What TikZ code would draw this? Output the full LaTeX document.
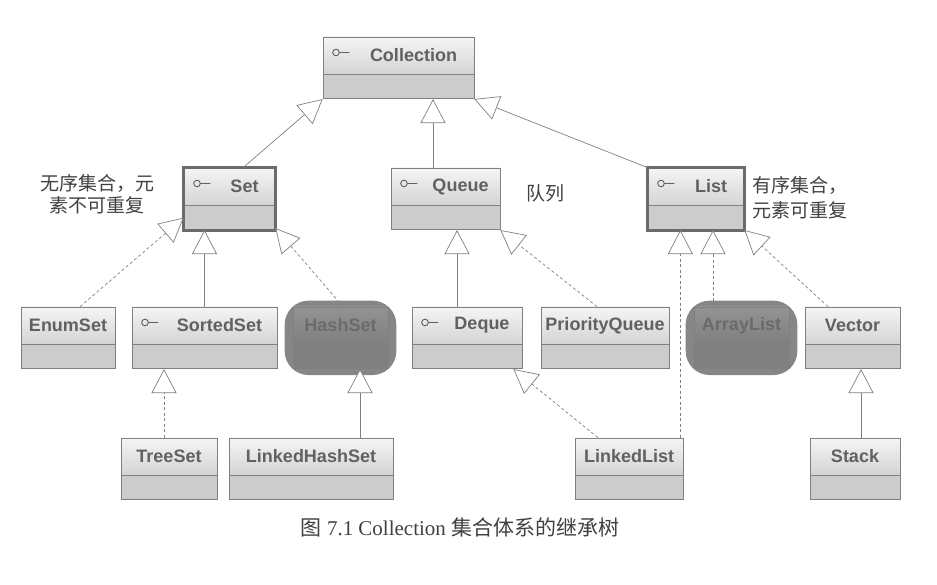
\documentclass[tikz,border=0pt]{standalone}
\usepackage{fontspec}
\setmainfont{Liberation Serif}
\newfontfamily\boxfont{Liberation Sans}
\newfontfamily\cjk{Noto Sans CJK SC}
\usetikzlibrary{arrows.meta,positioning,backgrounds}

\newlength{\du}
\setlength{\du}{1pt}

\definecolor{dialinecolor}{rgb}{0.50,0.50,0.50}
\definecolor{diatextcolor}{rgb}{0.38,0.38,0.38}
\definecolor{diaheadtop}{rgb}{0.96,0.96,0.96}
\definecolor{diaheadbot}{rgb}{0.83,0.83,0.83}
\definecolor{diacompcolor}{rgb}{0.80,0.80,0.80}
\definecolor{diadarkcolor}{rgb}{0.50,0.50,0.50}
\definecolor{diadarktext}{rgb}{0.42,0.42,0.42}
\definecolor{diaframecolor}{rgb}{0.42,0.42,0.42}
\definecolor{dianotecolor}{rgb}{0.25,0.25,0.25}

\tikzset{
  hdr/.style={draw=dialinecolor, line width=0.7\du, top color=diaheadtop, bottom color=diaheadbot,
    minimum height=37\du, inner sep=0pt, text=diatextcolor,
    font=\boxfont\bfseries\fontsize{18}{20}\selectfont},
  cmp/.style={draw=dialinecolor, line width=0.7\du, fill=diacompcolor, minimum height=24\du,
    inner sep=0pt, below=0pt of #1},
  iface/.style={execute at begin node={\hspace*{30\du}},
    path picture={\draw[diatextcolor, line width=0.9\du]
      ([xshift=13\du,yshift=3\du]path picture bounding box.west) circle[radius=3.3\du]
      ++(3.3\du,0) -- ++(10\du,0);}},
  darkhdr/.style={top color=diadarkcolor!85, bottom color=diadarkcolor, text=diadarktext},
  darkcmp/.style={fill=diadarkcolor},
  blob/.style={fill=diadarkcolor!95, rounded corners=24\du},
  frame/.style={draw=diaframecolor, line width=3\du},
  ext/.style={draw=dialinecolor, line width=0.7pt,
    -{Triangle[length=24pt, width=25pt, fill=white, line width=0.7pt]}},
  impl/.style={ext, dash pattern=on 3pt off 2.5pt},
  note/.style={text=dianotecolor, font=\cjk\fontsize{19}{22}\selectfont, inner sep=0pt},
  caption/.style={text=dianotecolor, font=\fontsize{21}{24}\selectfont, inner sep=0pt}
}

\begin{document}
\begin{tikzpicture}[x=1\du, y=-1\du]
\useasboundingbox (0,0) rectangle (937,585);

% interfaces
\node[hdr, iface, minimum width=151\du] (coll) at (398.5,55.5) {Collection};
\node[cmp=coll, minimum width=151\du] (coll-c) {};
\node[hdr, iface, minimum width=91\du] (set) at (229.5,186.5) {Set};
\node[cmp=set, minimum width=91\du] (set-c) {};
\node[hdr, iface, minimum width=109\du] (queue) at (445.5,186.5) {Queue};
\node[cmp=queue, minimum width=109\du] (queue-c) {};
\node[hdr, iface, minimum width=96\du] (list) at (696,186.5) {List};
\node[cmp=list, minimum width=96\du] (list-c) {};
\draw[frame] (set.north west) rectangle (set-c.south east);
\draw[frame] (list.north west) rectangle (list-c.south east);

% second row
\node[hdr, minimum width=94\du] (enumset) at (68,325.5) {EnumSet};
\node[cmp=enumset, minimum width=94\du] (enumset-c) {};
\node[hdr, iface, minimum width=145\du] (sortedset) at (204.5,325.5) {SortedSet};
\node[cmp=sortedset, minimum width=145\du] (sortedset-c) {};
\node[hdr, darkhdr, minimum width=95\du] (hashset) at (340.5,325.5) {HashSet};
\node[cmp=hashset, darkcmp, minimum width=95\du] (hashset-c) {};
\node[hdr, iface, minimum width=110\du] (deque) at (467,325.5) {Deque};
\node[cmp=deque, minimum width=110\du] (deque-c) {};
\node[hdr, minimum width=128\du] (prioq) at (605,325.5) {PriorityQueue};
\node[cmp=prioq, minimum width=128\du] (prioq-c) {};
\node[hdr, darkhdr, minimum width=95\du] (arraylist) at (741.5,325.5) {ArrayList};
\node[cmp=arraylist, darkcmp, minimum width=95\du] (arraylist-c) {};
\node[hdr, minimum width=95\du] (vector) at (852.5,325.5) {Vector};
\node[cmp=vector, minimum width=95\du] (vector-c) {};

% third row
\node[hdr, minimum width=96\du] (treeset) at (169,456.5) {TreeSet};
\node[cmp=treeset, minimum width=96\du] (treeset-c) {};
\node[hdr, minimum width=164\du] (lhs) at (311,456.5) {LinkedHashSet};
\node[cmp=lhs, minimum width=164\du] (lhs-c) {};
\node[hdr, minimum width=108\du] (linkedlist) at (629,456.5) {LinkedList};
\node[cmp=linkedlist, minimum width=108\du] (linkedlist-c) {};
\node[hdr, minimum width=90\du] (stack) at (855,456.5) {Stack};
\node[cmp=stack, minimum width=90\du] (stack-c) {};

\begin{scope}[on background layer]
\fill[blob] ([xshift=-8\du,yshift=6\du]hashset.north west) rectangle ([xshift=8\du,yshift=-6\du]hashset-c.south east);
\fill[blob] ([xshift=-8\du,yshift=6\du]arraylist.north west) rectangle ([xshift=8\du,yshift=-6\du]arraylist-c.south east);
\end{scope}

% setfont left to latex
\node[note, align=center] (setnote) at (97,194) {无序集合，元\\素不可重复};
\node[note] (queuenote) at (545,193) {队列};
\node[note, align=left, anchor=west, font=\cjk\fontsize{19}{25}\selectfont] (listnote) at (752,197.5) {有序集合，\\元素可重复};
\node[caption] (cap) at (460,527) {{\cjk 图} 7.1 Collection {\cjk 集合体系的继承树}};

\draw[ext] ([xshift=13.5\du]set.north) -- (coll-c.south west);
\draw[ext] ([xshift=-12.5\du]queue.north) -- ([xshift=-12.5\du]queue.north |- coll-c.south);
\draw[ext] (list.north west) -- (coll-c.south east);
\draw[impl] ([xshift=12\du]enumset.north) -- (set-c.west);
\draw[ext] (sortedset.north) -- (sortedset.north |- set-c.south);
\draw[impl] ([xshift=2.5\du]hashset.north) -- ([yshift=2\du]set-c.south east);
\draw[ext] ([xshift=-10\du]deque.north) -- ([xshift=-10\du]deque.north |- queue-c.south);
\draw[impl] ([xshift=-8\du]prioq.north) -- (queue-c.south east);
\draw[impl] ([xshift=-3\du]linkedlist.north east) -- ([xshift=-3\du]linkedlist.north east |- list-c.south);
\draw[impl] ([xshift=-28.5\du]arraylist.north) -- ([xshift=-28.5\du]arraylist.north |- list-c.south);
\draw[impl] ([xshift=-24.5\du]vector.north) -- (list-c.south east);
\draw[impl] ([xshift=-31\du]linkedlist.north) -- ([xshift=-9\du]deque-c.south east);
\draw[impl] ([xshift=-5\du]treeset.north) -- ([xshift=-5\du]treeset.north |- sortedset-c.south);
\draw[ext] ([xshift=49\du]lhs.north) -- ([xshift=49\du]lhs.north |- hashset-c.south);
\draw[ext] ([xshift=6\du]stack.north) -- ([xshift=6\du]stack.north |- vector-c.south);
\end{tikzpicture}
\end{document}
